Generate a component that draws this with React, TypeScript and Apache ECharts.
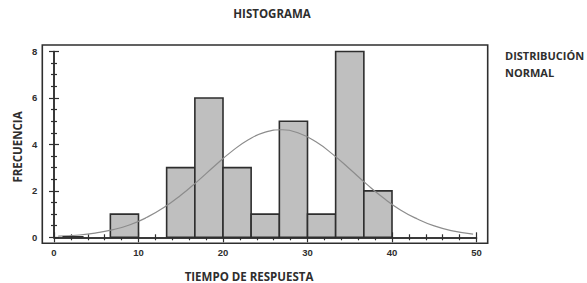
import React, { useEffect, useRef } from "react";
import * as echarts from "echarts";

const binEdges = [6.67, 10, 13.33, 16.67, 20, 23.33, 26.67, 30, 33.33, 36.67, 40];
const binCounts = [1, 0, 3, 6, 3, 1, 5, 1, 8, 2];
const curveX = [0.5, 3, 5, 7, 9, 11, 13, 15, 17, 19, 21, 23, 25, 27, 29, 31, 33, 35, 37, 39, 41, 43, 45, 47, 49.6];
const curveY = [0.05, 0.1, 0.19, 0.33, 0.54, 0.86, 1.28, 1.81, 2.42, 3.07, 3.69, 4.2, 4.53, 4.63, 4.48, 4.11, 3.57, 2.94, 2.29, 1.69, 1.18, 0.79, 0.49, 0.29, 0.14];
const zeroSegment = [[1, 0.02], [3.5, 0.02]];
const xTicks = { min: 0, max: 50, interval: 10 };
const yTicks = { min: 0, max: 8, interval: 2 };

const DARK = "#2e2e2e";
const labelStyle = { color: DARK, fontFamily: "Arial, 'Liberation Sans', sans-serif", fontWeight: "bold" as const, fontSize: 9.5 };
const titleFont = "bold 11.5px 'Open Sans', sans-serif";
const sideFont = "bold 11px 'Open Sans', sans-serif";

export default function App() {
  const ref = useRef<HTMLDivElement>(null);
  useEffect(() => {
    if (!ref.current) return;
    const chart = echarts.init(ref.current, null, { renderer: "svg" });
    const bars = binCounts
      .map((c, i) => [binEdges[i], binEdges[i + 1], c])
      .filter((d) => d[2] > 0);
    const curve = curveX.map((x, i) => [x, curveY[i]]);
    const axisCommonX = {
      type: "value" as const,
      min: xTicks.min,
      max: xTicks.max,
      interval: xTicks.interval,
      splitLine: { show: false },
      axisLine: { show: true, lineStyle: { color: DARK, width: 1.5 } },
      axisTick: { show: true, inside: true, length: 5, lineStyle: { color: DARK, width: 1.2 } },
      minorTick: { show: true, splitNumber: 5, length: 3, lineStyle: { color: DARK, width: 1.2 } },
    };
    const axisCommonY = {
      type: "value" as const,
      min: yTicks.min,
      max: yTicks.max,
      interval: yTicks.interval,
      splitLine: { show: false },
      axisLine: { show: true, lineStyle: { color: DARK, width: 1.5 } },
      axisTick: { show: true, inside: true, length: 5, lineStyle: { color: DARK, width: 1.2 } },
      minorTick: { show: true, splitNumber: 4, length: 3, lineStyle: { color: DARK, width: 1.2 } },
    };
    chart.setOption({
      animation: false,
      backgroundColor: "#ffffff",
      grid: { left: 54, right: 110.5, top: 51.5, bottom: 45.7 },
      xAxis: [
        { ...axisCommonX, position: "bottom", offset: 6, axisLabel: { ...labelStyle, margin: 4 } },
        { ...axisCommonX, position: "top", offset: 6.5, axisLabel: { show: false } },
      ],
      yAxis: [
        { ...axisCommonY, position: "left", offset: 11.7, axisLabel: { ...labelStyle, margin: 5 } },
        { ...axisCommonY, position: "right", offset: 11.2, axisLabel: { show: false } },
      ],
      graphic: [
        {
          type: "rect",
          shape: { x: 42.3, y: 45, width: 445.4, height: 198.3 },
          style: { fill: "none", stroke: DARK, lineWidth: 1.6 },
          z: 10,
        },
        {
          type: "text",
          x: 272,
          y: 13,
          style: { text: "HISTOGRAMA", fill: DARK, font: titleFont, align: "center", verticalAlign: "middle" },
        },
        {
          type: "text",
          x: 249,
          y: 276,
          style: { text: "TIEMPO DE RESPUESTA", fill: DARK, font: titleFont, align: "center", verticalAlign: "middle" },
        },
        {
          type: "text",
          x: 17,
          y: 147,
          rotation: Math.PI / 2,
          style: { text: "FRECUENCIA", fill: DARK, font: titleFont, align: "center", verticalAlign: "middle" },
        },
        {
          type: "text",
          x: 505,
          y: 55,
          style: { text: "DISTRIBUCIÓN", fill: DARK, font: sideFont, align: "left", verticalAlign: "middle" },
        },
        {
          type: "text",
          x: 505,
          y: 72,
          style: { text: "NORMAL", fill: DARK, font: sideFont, align: "left", verticalAlign: "middle" },
        },
      ],
      series: [
        {
          type: "custom",
          xAxisIndex: 0,
          yAxisIndex: 0,
          data: bars,
          renderItem: (params: any, api: any) => {
            const p0 = api.coord([api.value(0), api.value(2)]);
            const p1 = api.coord([api.value(1), 0]);
            return {
              type: "rect",
              shape: { x: p0[0], y: p0[1], width: p1[0] - p0[0], height: p1[1] - p0[1] },
              style: { fill: "#bfbfbf", stroke: DARK, lineWidth: 1.6 },
            };
          },
          z: 2,
        },
        {
          type: "line",
          xAxisIndex: 0,
          yAxisIndex: 0,
          data: curve,
          smooth: true,
          symbol: "none",
          lineStyle: { color: "#8c8c8c", width: 1.2 },
          z: 3,
        },
        {
          type: "line",
          xAxisIndex: 0,
          yAxisIndex: 0,
          data: zeroSegment,
          symbol: "none",
          lineStyle: { color: DARK, width: 1.5 },
          z: 3,
        },
      ],
    });
    return () => chart.dispose();
  }, []);
  return <div ref={ref} style={{ position: "absolute", left: 0, top: 0, width: 587, height: 283 }} />;
}
